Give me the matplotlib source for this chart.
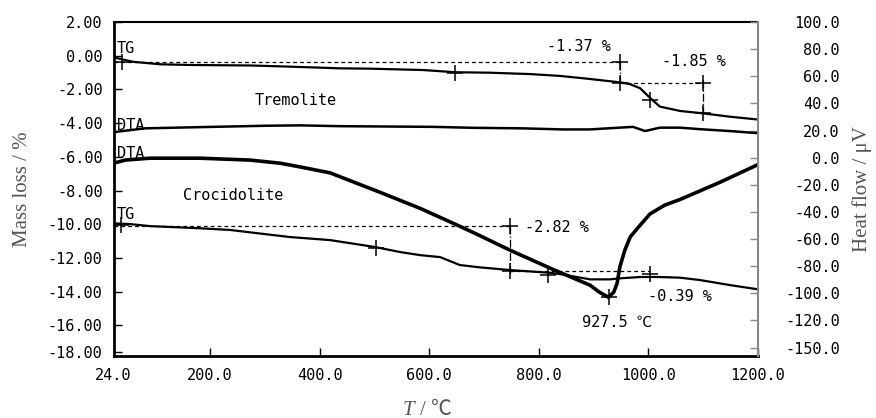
import matplotlib
matplotlib.use("Agg")
import matplotlib.pyplot as plt
from matplotlib.ticker import FixedLocator, FixedFormatter

# ---------------- data ----------------
# Tremolite TG (mass loss %, left axis)
trem_tg_T = [24, 59, 109, 163, 273, 346, 437, 492, 589, 647, 711, 784, 839, 893, 912,
             948, 966, 985, 1003, 1021, 1058, 1100, 1149, 1198]
trem_tg_m = [-0.10, -0.36, -0.51, -0.55, -0.58, -0.65, -0.75, -0.77, -0.85, -0.98, -1.01,
             -1.09, -1.20, -1.38, -1.45, -1.58, -1.68, -1.93, -2.50, -3.02, -3.28, -3.42,
             -3.62, -3.78]

# Tremolite DTA (heat flow uV, right axis)
trem_dta_T = [24, 81, 182, 300, 364, 437, 607, 680, 771, 844, 893, 972, 994, 1021, 1058,
              1094, 1149, 1198]
trem_dta_h = [18.8, 21.6, 22.5, 23.5, 23.8, 23.2, 22.7, 22.0, 21.6, 20.8, 20.8, 22.7,
              19.6, 22.1, 22.1, 21.0, 19.6, 18.1]

# Crocidolite DTA (heat flow uV, right axis)
croc_dta_T = [24, 45, 90, 182, 273, 328, 364, 419, 510, 583, 656, 693, 748, 821,
              894, 910, 927.5, 937, 943, 948, 957, 967, 985, 1003, 1030, 1058, 1076,
              1131, 1198]
croc_dta_h = [-4.1, -1.8, -0.4, -0.4, -1.8, -4.1, -6.8, -11.2, -25.5, -37.3,
              -50.6, -57.6, -68.3, -81.5, -94.1, -99.0, -103.0, -99.0, -92.6, -80.6,
              -68.3, -58.4, -49.8, -41.5, -35.0, -30.8, -27.7, -18.1, -5.5]

# Crocidolite TG (mass loss %, left axis)
croc_tg_T = [24, 54, 90, 182, 237, 273, 346, 419, 501, 547, 583, 620, 656, 693, 748,
             821, 839, 894, 930, 948, 985, 1021, 1058, 1094, 1149, 1198]
croc_tg_m = [-9.95, -9.99, -10.11, -10.24, -10.34, -10.48, -10.76, -10.94, -11.35,
             -11.65, -11.83, -11.95, -12.42, -12.56, -12.72, -12.88, -12.96, -13.27,
             -13.27, -13.21, -13.13, -13.13, -13.17, -13.31, -13.61, -13.85]

# analysis marks (step evaluation)
trem_step_T = [948, 1100]
trem_step_levels = [-0.38, -1.62, -3.42]
trem_marks_T = [40, 647, 948, 948, 1003, 1100, 1100]
trem_marks_m = [-0.40, -1.00, -0.38, -1.62, -2.65, -1.62, -3.42]

croc_step_T = [748, 1003]
croc_step_levels = [-10.08, -12.75, -12.95]
croc_marks_T = [38, 503, 748, 748, 817, 1003]
croc_marks_m = [-10.05, -11.41, -10.08, -12.75, -13.0, -12.95]
croc_peak_T = 927.5
croc_peak_h = -103.0

x_ticks = [24, 200, 400, 600, 800, 1000, 1200]
x_ticklabels = ["24.0", "200.0", "400.0", "600.0", "800.0", "1000.0", "1200.0"]
left_ticks = [2, 0, -2, -4, -6, -8, -10, -12, -14, -16, -17.55]
left_ticklabels = ["2.00", "0.00", "-2.00", "-4.00", "-6.00", "-8.00", "-10.00",
                   "-12.00", "-14.00", "-16.00", "-18.00"]
right_ticks = [100, 80, 60, 40, 20, 0, -20, -40, -60, -80, -100, -120, -140]
right_ticklabels = ["100.0", "80.0", "60.0", "40.0", "20.0", "0.0", "-20.0", "-40.0",
                    "-60.0", "-80.0", "-100.0", "-120.0", "-150.0"]

annotations = [
    ("TG", 30, 0.45), ("DTA", 30, -4.17), ("DTA", 30, -5.83), ("TG", 30, -9.45),
    ("Tremolite", 282, -2.63), ("Crocidolite", 150, -8.27),
    ("-1.37 %", 815, 0.53), ("-1.85 %", 1025, -0.36),
    ("-2.82 %", 775, -10.2), ("-0.39 %", 1000, -14.3), ("927.5 ℃", 879, -15.8),
]

# ---------------- plot ----------------
mono = "DejaVu Sans Mono"
serif = ["Liberation Serif", "Noto Sans CJK JP"]
fig = plt.figure(figsize=(8.76, 4.18), dpi=100)
ax = fig.add_axes([0.1297, 0.149, 0.7355, 0.7984])
ax2 = ax.twinx()

ax.set_xlim(24, 1200)
ax.set_ylim(-17.8, 2.0)
ax2.set_ylim(-146.0, 100.0)

# TG curves
ax.plot(trem_tg_T, trem_tg_m, color="black", lw=1.6)
ax.plot(croc_tg_T, croc_tg_m, color="black", lw=1.6)
# DTA curves
ax2.plot(trem_dta_T, trem_dta_h, color="black", lw=1.8)
ax2.plot(croc_dta_T, croc_dta_h, color="black", lw=2.6)

dotted = (0, (3, 2.5))
# step evaluation lines (tremolite)
ax.plot([24, trem_step_T[0]], [trem_step_levels[0]] * 2, color="black", lw=0.9, ls=dotted)
ax.plot([trem_step_T[0], trem_step_T[1]], [trem_step_levels[1]] * 2, color="black", lw=0.9, ls=dotted)
ax.plot([trem_step_T[0]] * 2, [trem_step_levels[0], trem_step_levels[1]], color="black", lw=0.9, ls="-.")
ax.plot([trem_step_T[1]] * 2, [trem_step_levels[1] + 0.2, trem_step_levels[2] - 0.2], color="black", lw=0.9, ls="-.")
ax.plot(trem_marks_T, trem_marks_m, ls="none", marker="+", ms=12, mew=1.1, color="black")

# step evaluation lines (crocidolite)
ax.plot([24, croc_step_T[0]], [croc_step_levels[0]] * 2, color="black", lw=0.9, ls=dotted)
ax.plot([croc_step_T[0], croc_step_T[1]], [croc_step_levels[1]] * 2, color="black", lw=0.9, ls=dotted)
ax.plot([croc_step_T[0]] * 2, [croc_step_levels[0], croc_step_levels[1] - 0.3], color="black", lw=0.9, ls="-.")
ax.plot(croc_marks_T, croc_marks_m, ls="none", marker="+", ms=12, mew=1.1, color="black")
ax2.plot([croc_peak_T], [croc_peak_h], ls="none", marker="+", ms=12, mew=1.1, color="black")

for txt, xx, yy in annotations:
    ax.text(xx, yy, txt, fontsize=11, family=[mono, "Noto Sans CJK JP"], ha="left", va="center")

# axes styling
ax.xaxis.set_major_locator(FixedLocator(x_ticks))
ax.xaxis.set_major_formatter(FixedFormatter(x_ticklabels))
ax.yaxis.set_major_locator(FixedLocator(left_ticks))
ax.yaxis.set_major_formatter(FixedFormatter(left_ticklabels))
ax2.yaxis.set_major_locator(FixedLocator(right_ticks))
ax2.yaxis.set_major_formatter(FixedFormatter(right_ticklabels))

ax.tick_params(axis="x", direction="in", length=6, width=1, labelsize=11, pad=9)
ax.tick_params(axis="y", direction="in", length=6, width=1, labelsize=11, pad=8)
ax2.tick_params(axis="y", direction="in", length=6, width=1, labelsize=11, pad=59,
                color="#888888")
for lab in ax.get_xticklabels() + ax.get_yticklabels() + ax2.get_yticklabels():
    lab.set_family(mono)
for lab in ax2.get_yticklabels():
    lab.set_horizontalalignment("right")

ax.spines["left"].set_linewidth(2.0)
ax.spines["bottom"].set_linewidth(2.0)
ax.spines["top"].set_linewidth(1.5)
ax2.spines["left"].set_visible(False)
ax2.spines["bottom"].set_visible(False)
ax2.spines["top"].set_visible(False)
ax2.spines["right"].set_color("#888888")
ax2.spines["right"].set_linewidth(1.5)
ax.spines["right"].set_visible(False)

ax.set_ylabel("Mass loss / %", family=serif, fontsize=15, color="#555555", labelpad=11)
ax2.set_ylabel("Heat flow / μV", family=serif, fontsize=15, color="#555555", labelpad=9)
fig.text(0.466, 0.019, "T", family=serif, fontsize=15, style="italic",
         color="#555555", ha="center", va="center")
fig.text(0.480, 0.019, "/ ℃", family=serif, fontsize=15,
         color="#555555", ha="left", va="center")

fig.savefig("out.png", dpi=100)
